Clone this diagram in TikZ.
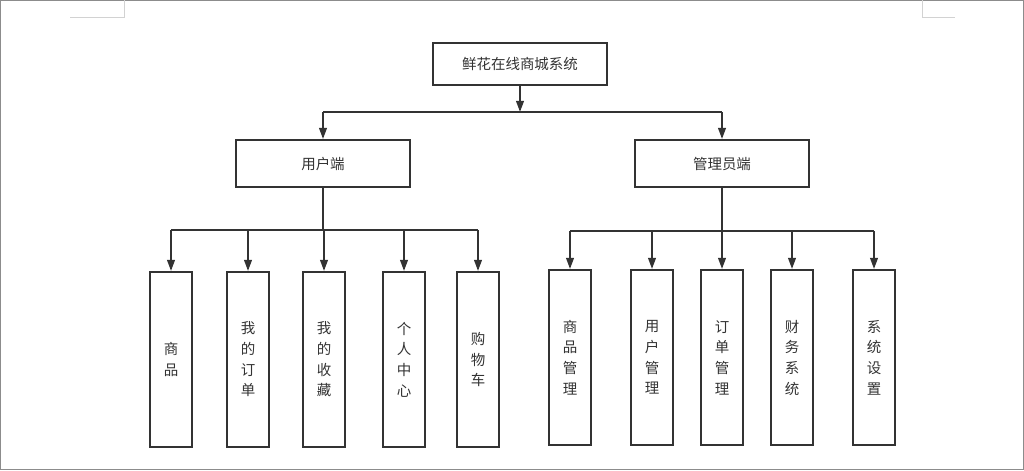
\documentclass[tikz,border=0pt]{standalone}
\usepackage{fontspec}
\newfontfamily\cjk{Noto Sans CJK SC}
\usetikzlibrary{arrows.meta,positioning}
\definecolor{linegray}{RGB}{51,51,51}
\definecolor{framegray}{RGB}{140,140,140}

\begin{document}
\begin{tikzpicture}[x=0.025cm,y=-0.025cm,
    box/.style={draw=linegray,line width=1.4pt,text=linegray,align=center,inner sep=0pt,
      font=\cjk\fontsize{10.3}{14.7}\selectfont},
    head/.style={box,minimum width=4.35cm,minimum height=1.175cm},
    leaf/.style={box,minimum width=1.05cm,minimum height=4.375cm},
    pfeil/.style={draw=linegray,line width=1.4pt,-{Triangle[width=5.5pt,length=8pt]}},
    bus/.style={draw=linegray,line width=1.4pt}]
    \useasboundingbox (0,0) rectangle (1024,470);
    % Rahmen und Schnittmarken
    \draw[framegray,line width=0.7pt] (0.5,0.5) rectangle (1023.5,469.5);
    \draw[gray!35,line width=0.7pt] (124,0) -- (124,17) -- (70,17);
    \draw[gray!35,line width=0.7pt] (922,0) -- (922,17) -- (955,17);
    % Wurzel und zwei Zweige
    \node[head,minimum height=1.05cm] (root) at (520,64) {鲜花在线商城系统};
    \node[head] (user) at (323,163.5) {用户端};
    \node[head] (admin) at (722,163.5) {管理员端};
    \coordinate (rbus) at (520,112);
    \coordinate (ubus) at (323,230);
    \coordinate (abus) at (722,231);
    \draw[pfeil] (root.south) -- (rbus);
    \draw[bus] (user.north |- rbus) -- (admin.north |- rbus);
    \draw[pfeil] (user.north |- rbus) -- (user.north);
    \draw[pfeil] (admin.north |- rbus) -- (admin.north);
    % Blaetter Nutzerseite
    \draw[bus] (user.south) -- (ubus);
    \foreach \n/\x/\t in {shangpin/171/{商\\品},dingdan/248/{我\\的\\订\\单},shoucang/324/{我\\的\\收\\藏},
      geren/404/{个\\人\\中\\心},gouwu/478/{购\\物\\车}} {
      \node[leaf] (\n) at (\x,359.5) {\t};
      \draw[pfeil] (\n.north |- ubus) -- (\n.north);
    }
    \draw[bus] (shangpin.north |- ubus) -- (gouwu.north |- ubus);
    % Blaetter Verwaltungsseite
    \draw[bus] (admin.south) -- (abus);
    \foreach \n/\x/\t in {spgl/570/{商\\品\\管\\理},yhgl/652/{用\\户\\管\\理},ddgl/722/{订\\单\\管\\理},
      cwxt/792/{财\\务\\系\\统},xtsz/874/{系\\统\\设\\置}} {
      \node[leaf] (\n) at (\x,357.5) {\t};
      \draw[pfeil] (\n.north |- abus) -- (\n.north);
    }
    \draw[bus] (spgl.north |- abus) -- (xtsz.north |- abus);
  \end{tikzpicture}
\end{document}
